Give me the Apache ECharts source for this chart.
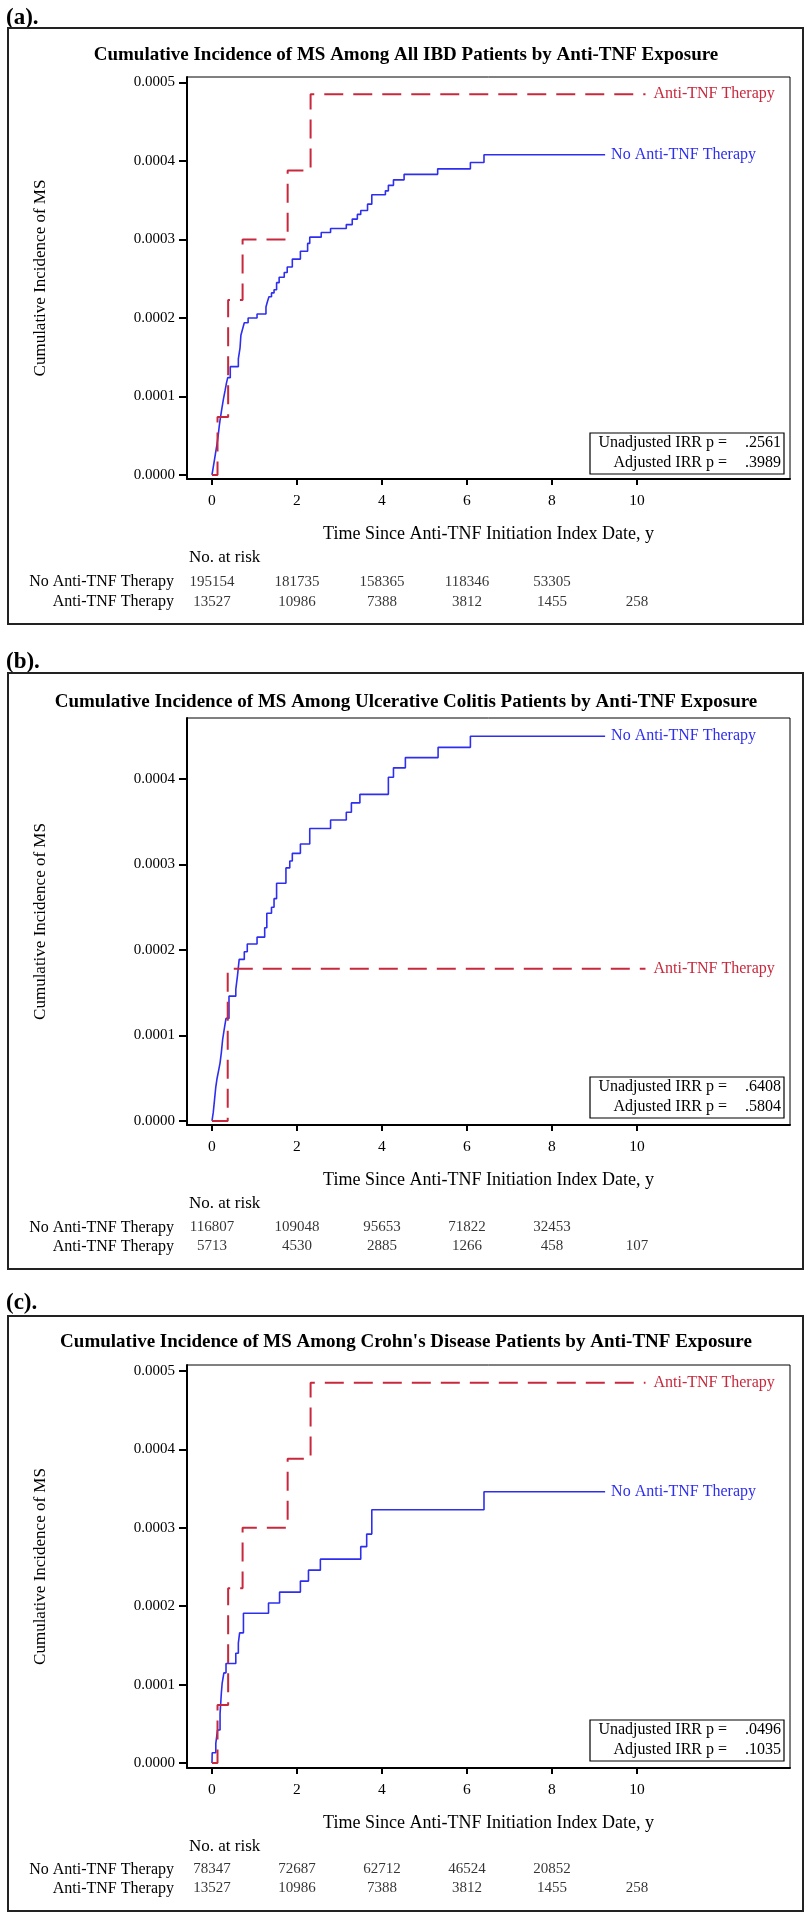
<!DOCTYPE html>
<html><head><meta charset="utf-8">
<script src="https://cdn.jsdelivr.net/npm/echarts@6/dist/echarts.min.js"></script>
<style>html,body{margin:0;padding:0;background:#fff}#c{width:812px;height:1920px}</style>
</head><body><div id="c"></div>
<script>
// ---------- DATA ----------
const xTickValues = [0, 2, 4, 6, 8, 10];
const yTickValuesA = [0, 0.0001, 0.0002, 0.0003, 0.0004, 0.0005];
const yTickValuesB = [0, 0.0001, 0.0002, 0.0003, 0.0004];
const yTickValuesC = [0, 0.0001, 0.0002, 0.0003, 0.0004, 0.0005];
const panelLabels = ['(a).', '(b).', '(c).'];
const panelTitles = [
  'Cumulative Incidence of MS Among All IBD Patients by Anti-TNF Exposure',
  'Cumulative Incidence of MS Among Ulcerative Colitis Patients by Anti-TNF Exposure',
  "Cumulative Incidence of MS Among Crohn's Disease Patients by Anti-TNF Exposure"
];
const groupNames = ['No Anti-TNF Therapy', 'Anti-TNF Therapy'];
const xAxisTitle = 'Time Since Anti-TNF Initiation Index Date, y';
const yAxisTitle = 'Cumulative Incidence of MS';
const riskHeader = 'No. at risk';
const riskTimes = [0, 2, 4, 6, 8, 10];
const riskNoTnfA = [195154, 181735, 158365, 118346, 53305];
const riskAntiTnfA = [13527, 10986, 7388, 3812, 1455, 258];
const riskNoTnfB = [116807, 109048, 95653, 71822, 32453];
const riskAntiTnfB = [5713, 4530, 2885, 1266, 458, 107];
const riskNoTnfC = [78347, 72687, 62712, 46524, 20852];
const riskAntiTnfC = [13527, 10986, 7388, 3812, 1455, 258];
const irrUnadjusted = ['.2561', '.6408', '.0496'];
const irrAdjusted = ['.3989', '.5804', '.1035'];
const irrLabels = ['Unadjusted IRR p =', 'Adjusted IRR p ='];

// [time (y), cumulative incidence]
const noTnfA = [[0,0],[0.03,0.10e-4],[0.06,0.20e-4],[0.09,0.30e-4],[0.12,0.40e-4],[0.15,0.52e-4],[0.17,0.62e-4],[0.19,0.70e-4],[0.23,0.84e-4],[0.27,0.97e-4],[0.31,1.08e-4],[0.34,1.17e-4],[0.37,1.24e-4],[0.43,1.38e-4],[0.62,1.48e-4],[0.66,1.62e-4],[0.68,1.78e-4],[0.72,1.86e-4],[0.76,1.94e-4],[0.85,2.00e-4],[1.06,2.05e-4],[1.27,2.14e-4],[1.30,2.20e-4],[1.34,2.27e-4],[1.40,2.32e-4],[1.46,2.36e-4],[1.52,2.45e-4],[1.58,2.52e-4],[1.70,2.58e-4],[1.77,2.65e-4],[1.89,2.75e-4],[2.08,2.85e-4],[2.25,2.95e-4],[2.30,3.03e-4],[2.57,3.09e-4],[2.79,3.14e-4],[3.16,3.19e-4],[3.30,3.26e-4],[3.42,3.32e-4],[3.50,3.37e-4],[3.66,3.45e-4],[3.76,3.57e-4],[4.08,3.62e-4],[4.15,3.69e-4],[4.27,3.76e-4],[4.52,3.83e-4],[5.31,3.90e-4],[6.08,3.98e-4],[6.40,4.08e-4],[9.25,4.08e-4]];
const antiTnfA = [[0,0],[0.13,0.74e-4],[0.38,2.23e-4],[0.72,3.00e-4],[1.78,3.88e-4],[2.32,4.85e-4],[10.2,4.85e-4]];
const noTnfB = [[0,0],[0.03,0.10e-4],[0.06,0.25e-4],[0.09,0.40e-4],[0.12,0.50e-4],[0.16,0.60e-4],[0.19,0.68e-4],[0.22,0.80e-4],[0.25,0.95e-4],[0.29,1.08e-4],[0.33,1.20e-4],[0.40,1.46e-4],[0.56,1.54e-4],[0.60,1.70e-4],[0.64,1.89e-4],[0.76,1.98e-4],[0.83,2.07e-4],[1.06,2.15e-4],[1.24,2.26e-4],[1.29,2.43e-4],[1.40,2.50e-4],[1.46,2.60e-4],[1.52,2.78e-4],[1.74,2.96e-4],[1.83,3.04e-4],[1.89,3.13e-4],[2.08,3.24e-4],[2.30,3.42e-4],[2.79,3.52e-4],[3.16,3.61e-4],[3.28,3.72e-4],[3.48,3.82e-4],[4.15,4.02e-4],[4.27,4.13e-4],[4.55,4.25e-4],[5.32,4.37e-4],[6.08,4.50e-4],[9.25,4.50e-4]];
const antiTnfB = [[0,0],[0.37,1.78e-4],[10.2,1.78e-4]];
const noTnfC = [[0,0],[0.005,0.13e-4],[0.09,0.25e-4],[0.13,0.42e-4],[0.19,0.63e-4],[0.21,0.80e-4],[0.22,0.89e-4],[0.24,1.02e-4],[0.28,1.15e-4],[0.33,1.27e-4],[0.56,1.40e-4],[0.62,1.53e-4],[0.65,1.66e-4],[0.74,1.91e-4],[1.33,2.04e-4],[1.59,2.18e-4],[2.08,2.32e-4],[2.27,2.46e-4],[2.55,2.60e-4],[3.50,2.76e-4],[3.64,2.92e-4],[3.76,3.23e-4],[6.40,3.46e-4],[9.25,3.46e-4]];
const antiTnfC = [[0,0],[0.13,0.74e-4],[0.38,2.23e-4],[0.72,3.00e-4],[1.78,3.88e-4],[2.32,4.85e-4],[10.2,4.85e-4]];

// ---------- LAYOUT / STYLE ----------
const FONT = '"Liberation Serif","Times New Roman",serif';
const BLUE = '#2e2ef0';
const RED = '#c8283c';
const panels = [
  {label: panelLabels[0], title: panelTitles[0], yTicks: yTickValuesA, no: noTnfA, anti: antiTnfA, riskNo: riskNoTnfA, riskAnti: riskAntiTnfA, unadj: irrUnadjusted[0], adj: irrAdjusted[0],
   boxTop: 28, boxBot: 624, labelY: 18, titleY: 55, plotTop: 77, plotBot: 479, yMin: -0.0000051, yMax: 0.000507, statTop: 433, riskHeadY: 558, riskTop: 572, riskH: 40},
  {label: panelLabels[1], title: panelTitles[1], yTicks: yTickValuesB, no: noTnfB, anti: antiTnfB, riskNo: riskNoTnfB, riskAnti: riskAntiTnfB, unadj: irrUnadjusted[1], adj: irrAdjusted[1],
   boxTop: 673, boxBot: 1269, labelY: 662, titleY: 702, plotTop: 718, plotBot: 1125, yMin: -0.0000047, yMax: 0.0004713, statTop: 1077, riskHeadY: 1204, riskTop: 1218, riskH: 38},
  {label: panelLabels[2], title: panelTitles[2], yTicks: yTickValuesC, no: noTnfC, anti: antiTnfC, riskNo: riskNoTnfC, riskAnti: riskAntiTnfC, unadj: irrUnadjusted[2], adj: irrAdjusted[2],
   boxTop: 1316, boxBot: 1911, labelY: 1303, titleY: 1342, plotTop: 1365, plotBot: 1768, yMin: -0.0000064, yMax: 0.0005077, statTop: 1720, riskHeadY: 1847, riskTop: 1860, riskH: 38}
];
const PLOT_LEFT = 187, PLOT_W = 603, X_MIN = -0.588, X_MAX = 13.6;

const grid = [], xAxis = [], yAxis = [], series = [], graphic = [];
panels.forEach((p, i) => {
  const g = i * 2;
  grid.push({left: PLOT_LEFT, top: p.plotTop, width: PLOT_W, height: p.plotBot - p.plotTop, show: true, borderColor: '#000', borderWidth: 1, backgroundColor: 'transparent'});
  grid.push({left: PLOT_LEFT, top: p.riskTop, width: PLOT_W, height: p.riskH, show: false});
  xAxis.push({
    gridIndex: g, type: 'value', min: X_MIN, max: X_MAX,
    name: xAxisTitle, nameLocation: 'middle', nameGap: 46,
    nameTextStyle: {fontFamily: FONT, fontSize: 18, color: '#000'},
    axisLine: {show: true, onZero: false, lineStyle: {color: '#000', width: 2}},
    axisTick: {show: true, length: 6, lineStyle: {color: '#000', width: 2}, customValues: xTickValues},
    axisLabel: {fontFamily: FONT, fontSize: 15.5, color: '#000', margin: 14, customValues: xTickValues},
    splitLine: {show: false}
  });
  xAxis.push({gridIndex: g + 1, type: 'value', min: X_MIN, max: X_MAX, show: false});
  yAxis.push({
    gridIndex: g, type: 'value', min: p.yMin, max: p.yMax,
    name: yAxisTitle, nameLocation: 'middle', nameGap: 138, nameRotate: 90,
    nameTextStyle: {fontFamily: FONT, fontSize: 17, color: '#000'},
    axisLine: {show: true, onZero: false, lineStyle: {color: '#000', width: 2}},
    axisTick: {show: true, length: 8, lineStyle: {color: '#000', width: 2}, customValues: p.yTicks},
    axisLabel: {fontFamily: FONT, fontSize: 15, color: '#000', margin: 12, customValues: p.yTicks, formatter: v => v.toFixed(4)},
    splitLine: {show: false}
  });
  yAxis.push({
    gridIndex: g + 1, type: 'category', data: [groupNames[1], groupNames[0]],
    axisLine: {show: false}, axisTick: {show: false},
    axisLabel: {fontFamily: FONT, fontSize: 16, color: '#000', margin: 13, interval: 0, hideOverlap: false}
  });
  series.push({
    type: 'line', name: groupNames[0], xAxisIndex: g, yAxisIndex: g, data: p.no, step: 'end',
    showSymbol: false, symbol: 'none', lineStyle: {color: BLUE, width: 1.6}, itemStyle: {color: BLUE},
    endLabel: {show: true, formatter: groupNames[0], color: BLUE, fontFamily: FONT, fontSize: 16, distance: 6},
    z: 3
  });
  series.push({
    type: 'line', name: groupNames[1], xAxisIndex: g, yAxisIndex: g, data: p.anti, step: 'end',
    showSymbol: false, symbol: 'none', lineStyle: {color: RED, width: 2, type: [19, 10]}, itemStyle: {color: RED},
    endLabel: {show: true, formatter: groupNames[1], color: RED, fontFamily: FONT, fontSize: 16, distance: 8},
    z: 4
  });
  const riskData = [];
  p.riskNo.forEach((v, k) => riskData.push([riskTimes[k], groupNames[0], v]));
  p.riskAnti.forEach((v, k) => riskData.push([riskTimes[k], groupNames[1], v]));
  series.push({
    type: 'scatter', xAxisIndex: g + 1, yAxisIndex: g + 1, data: riskData, symbolSize: 0.1,
    itemStyle: {color: 'transparent'},
    label: {show: true, position: 'inside', formatter: d => String(d.value[2]), fontFamily: FONT, fontSize: 15, color: '#000'},
    silent: true
  });
  // panel box
  graphic.push({type: 'rect', shape: {x: 8, y: p.boxTop, width: 795, height: p.boxBot - p.boxTop}, style: {fill: 'none', stroke: '#222', lineWidth: 2}, z: 1});
  graphic.push({type: 'text', x: 6, y: p.labelY, style: {text: p.label, font: 'bold 23px ' + FONT, fill: '#000', textAlign: 'left', textVerticalAlign: 'middle', align: 'left', verticalAlign: 'middle'}});
  graphic.push({type: 'text', x: 406, y: p.titleY, style: {text: p.title, font: 'bold 19px ' + FONT, fill: '#000', textAlign: 'center', textVerticalAlign: 'middle', align: 'center', verticalAlign: 'middle'}});
  graphic.push({type: 'text', x: 189, y: p.riskHeadY, style: {text: riskHeader, font: '17px ' + FONT, fill: '#000', textAlign: 'left', textVerticalAlign: 'middle', align: 'left', verticalAlign: 'middle'}});
  // IRR box
  graphic.push({type: 'rect', shape: {x: 590, y: p.statTop, width: 194, height: 41}, style: {fill: '#fff', stroke: '#000', lineWidth: 1.2}, z: 10});
  graphic.push({type: 'text', x: 727, y: p.statTop + 10, z: 11, style: {text: irrLabels[0], font: '16px ' + FONT, fill: '#000', textAlign: 'right', textVerticalAlign: 'middle', align: 'right', verticalAlign: 'middle'}});
  graphic.push({type: 'text', x: 727, y: p.statTop + 30, z: 11, style: {text: irrLabels[1], font: '16px ' + FONT, fill: '#000', textAlign: 'right', textVerticalAlign: 'middle', align: 'right', verticalAlign: 'middle'}});
  graphic.push({type: 'text', x: 781, y: p.statTop + 10, z: 11, style: {text: p.unadj, font: '16px ' + FONT, fill: '#000', textAlign: 'right', textVerticalAlign: 'middle', align: 'right', verticalAlign: 'middle'}});
  graphic.push({type: 'text', x: 781, y: p.statTop + 30, z: 11, style: {text: p.adj, font: '16px ' + FONT, fill: '#000', textAlign: 'right', textVerticalAlign: 'middle', align: 'right', verticalAlign: 'middle'}});
});

const chart = echarts.init(document.getElementById('c'), null, {renderer: 'canvas', width: 812, height: 1920});
chart.setOption({
  animation: false,
  backgroundColor: '#fff',
  textStyle: {fontFamily: FONT},
  grid, xAxis, yAxis, series, graphic
});
</script></body></html>
